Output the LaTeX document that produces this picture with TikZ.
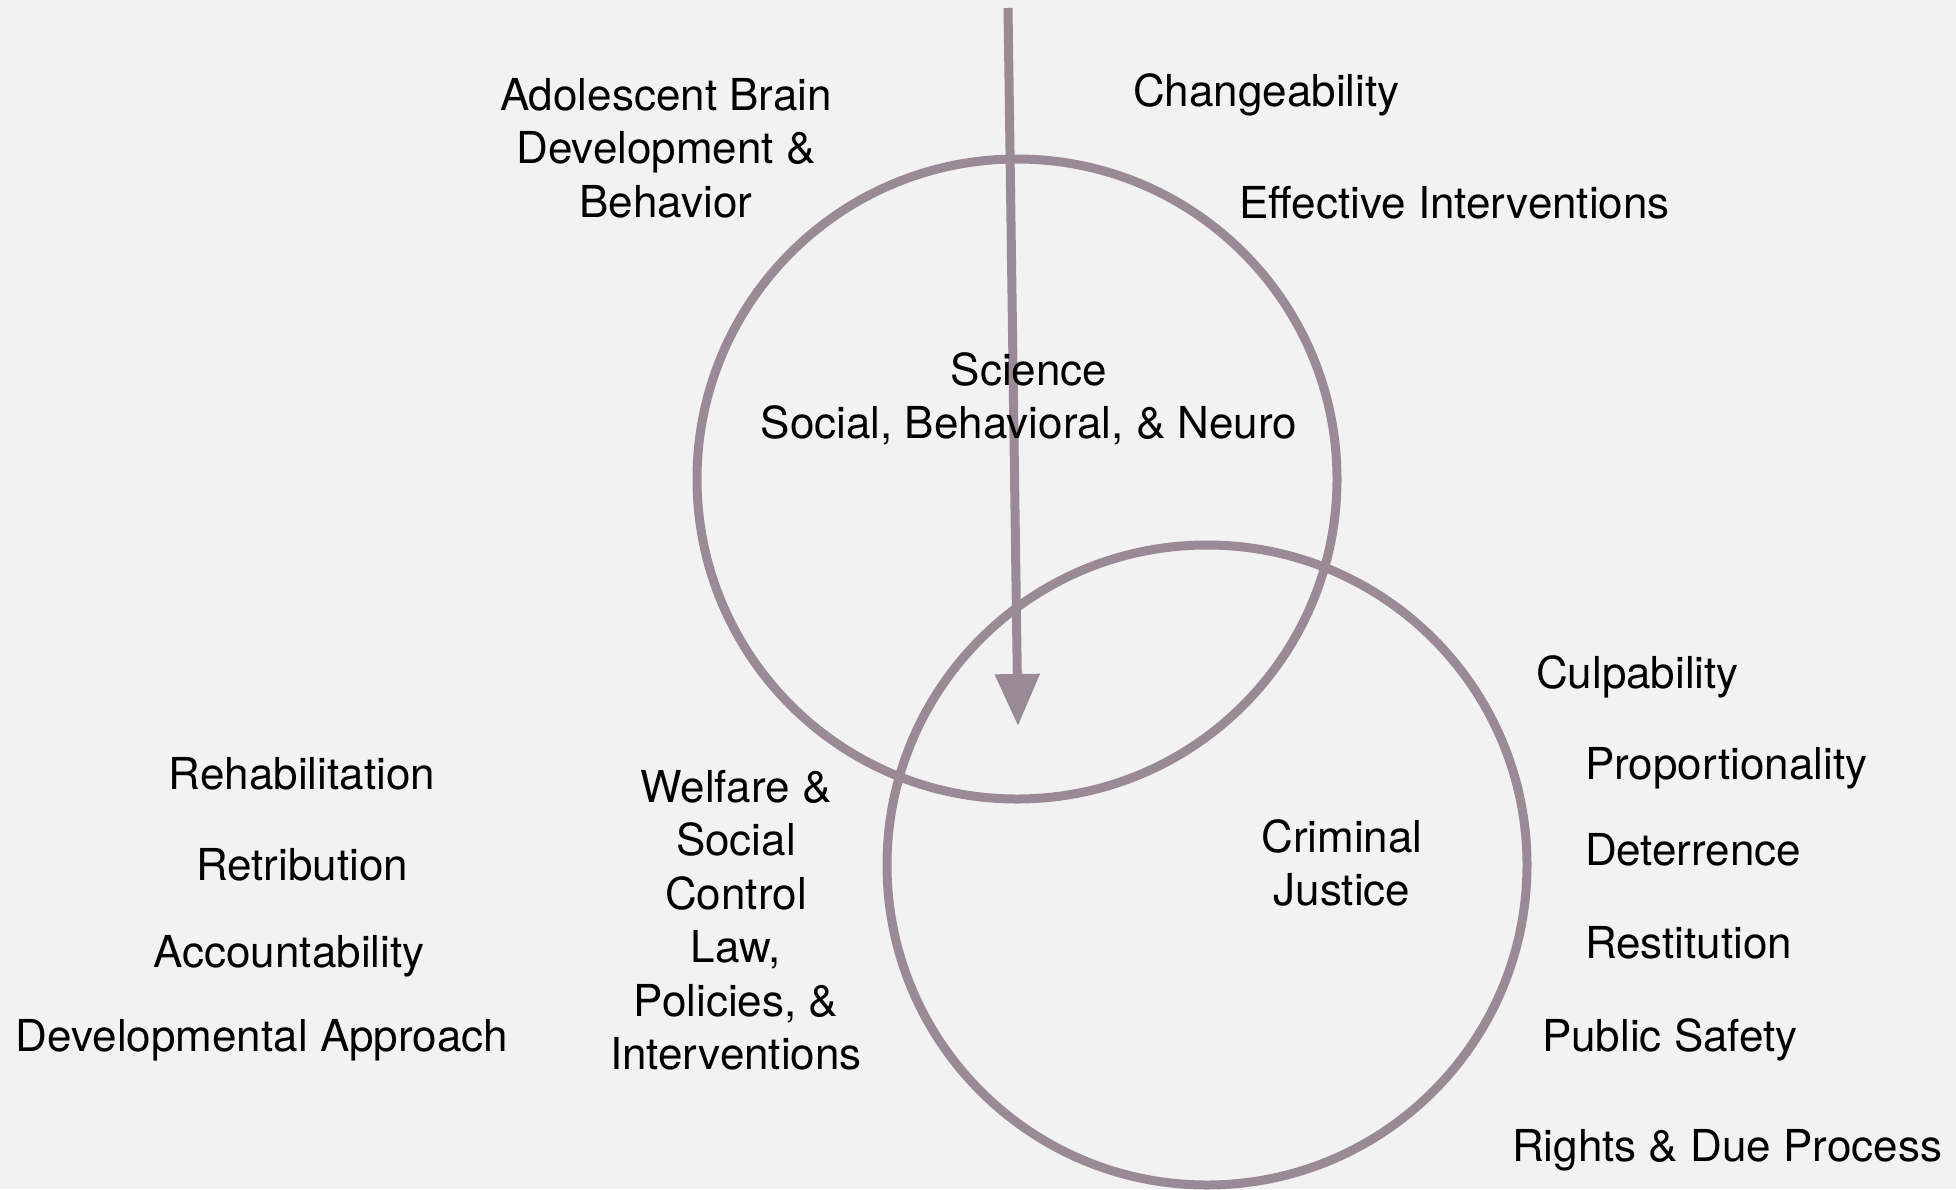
\documentclass[tikz,border=0pt]{standalone}
\usepackage{fontspec}
\setmainfont{TeX Gyre Heros}
\usetikzlibrary{arrows.meta}
\definecolor{ringcol}{HTML}{998A95}
\definecolor{bgcol}{HTML}{F2F2F2}
\begin{document}
\begin{tikzpicture}[x=1pt,y=-1pt,
  every node/.style={font=\fontsize{44}{53.5}\selectfont, inner sep=0pt, outer sep=0pt},
  ring/.style={circle, draw=ringcol, line width=9pt, minimum size=640pt},
  label/.style={anchor=base},
  leftlabel/.style={anchor=base west},
  % multi-line blocks are placed by the baseline of their last line
  block/.style={anchor=base, align=center}]
  % canvas
  \fill[bgcol] (0,0) rectangle (1956,1189);
  \useasboundingbox (0,0) rectangle (1956,1189);

  % the two overlapping domains
  \node[ring] (science) at (1017,479) {};
  \node[ring] (justice) at (1207,865) {};

  % flow from science into the overlap
  \coordinate (src) at (1008,8);
  \coordinate (dst) at (1018,726);
  \draw[ringcol, line width=9pt, -{Triangle[length=52pt,width=43pt]}] (src) -- (dst);

  % circle titles
  \node[block] (scitxt) at (1029,438.5) {Science\\Social, Behavioral, \& Neuro};
  \node[block] (cjtxt) at (1342,905.5) {Criminal\\Justice};
  \node[block] (welfare) at (736,1069.5) {Welfare \&\\Social\\Control\\Law,\\Policies, \&\\Interventions};

  % science themes
  \node[block] (brain) at (666,217) {Adolescent Brain\\Development \&\\Behavior};
  \node[leftlabel] (change) at (1133,106) {Changeability};
  \node[leftlabel] (effint) at (1239,218) {Effective Interventions};

  % welfare themes
  \node[label] (rehab) at (302,789) {Rehabilitation};
  \node[label] (retrib) at (302,880) {Retribution};
  \node[label] (account) at (289,967) {Accountability};
  \node[label] (devapp) at (262,1051) {Developmental Approach};

  % justice themes
  \node[leftlabel] (culp) at (1536,688) {Culpability};
  \node[leftlabel] (prop) at (1585,779) {Proportionality};
  \node[leftlabel] (deter) at (1585,865) {Deterrence};
  \node[leftlabel] (restit) at (1585,958) {Restitution};
  \node[leftlabel] (safety) at (1542,1051) {Public Safety};
  \node[leftlabel] (rights) at (1512,1161) {Rights \& Due Process};
\end{tikzpicture}
\end{document}
